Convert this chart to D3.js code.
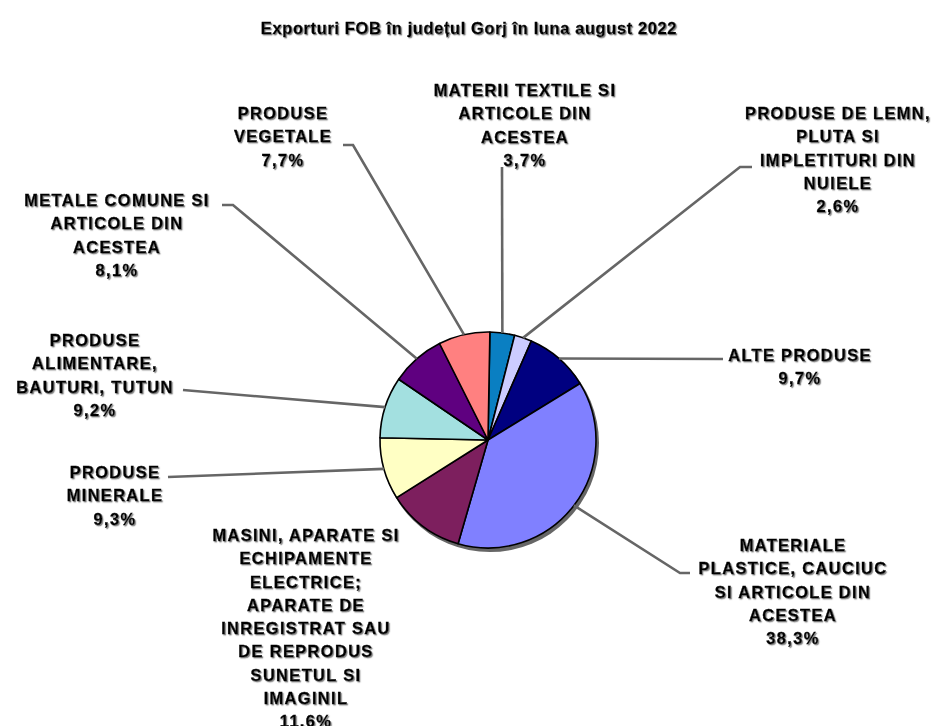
<!DOCTYPE html>
<html>
<head>
<meta charset="utf-8">
<script src="https://cdn.jsdelivr.net/npm/d3@7"></script>
<style>
  body { margin: 0; background: #fff; }
  svg text { font-family: "Liberation Sans", Arial, sans-serif; font-weight: bold; }
</style>
</head>
<body>
<div id="chart"></div>
<script>
// categories, clockwise from 12 o'clock
const labels = [
  ["MATERII TEXTILE SI", "ARTICOLE DIN", "ACESTEA"],
  ["PRODUSE DE LEMN,", "PLUTA SI", "IMPLETITURI DIN", "NUIELE"],
  ["ALTE PRODUSE"],
  ["MATERIALE", "PLASTICE, CAUCIUC", "SI ARTICOLE DIN", "ACESTEA"],
  ["MASINI, APARATE SI", "ECHIPAMENTE", "ELECTRICE;", "APARATE DE", "INREGISTRAT SAU", "DE REPRODUS", "SUNETUL SI", "IMAGINIL"],
  ["PRODUSE", "MINERALE"],
  ["PRODUSE", "ALIMENTARE,", "BAUTURI, TUTUN"],
  ["METALE COMUNE SI", "ARTICOLE DIN", "ACESTEA"],
  ["PRODUSE", "VEGETALE"]
];
// share of exports, %
const values = [3.7, 2.6, 9.7, 38.3, 11.6, 9.3, 9.2, 8.1, 7.7];
const colors = ["#0a7fc2", "#ccccff", "#000080", "#8080ff", "#7d1f5e", "#ffffc4", "#a3e0e0", "#5f0080", "#ff8080"];

const width = 938, height = 726;
const cx = 488, cy = 440, radius = 108;

// label placement: centre x, y of first line, leader end at label, optional elbow
const labelPos = [
  { x: 525, y: 90,  end: [502, 167], elbow: null },
  { x: 838, y: 113, end: [752, 167], elbow: [740, 167] },
  { x: 800, y: 355, end: [723, 359], elbow: null },
  { x: 793, y: 545, end: [690, 573], elbow: [680, 573] },
  { x: 306, y: 535, end: null, elbow: null },
  { x: 115, y: 472, end: [168, 477], elbow: null },
  { x: 95,  y: 340, end: [183, 390], elbow: null },
  { x: 117, y: 200, end: [222, 205], elbow: [233, 205] },
  { x: 283, y: 113, end: [343, 145], elbow: [353, 145] }
];
const lineH = 23.3;

const svg = d3.select("#chart").append("svg")
    .attr("width", width)
    .attr("height", height);

const defs = svg.append("defs");
const f = defs.append("filter").attr("id", "shadow")
    .attr("x", "-10%").attr("y", "-10%").attr("width", "130%").attr("height", "150%");
f.append("feDropShadow").attr("dx", 1.2).attr("dy", 1.2)
    .attr("stdDeviation", 0.7).attr("flood-color", "#777").attr("flood-opacity", 0.9);

svg.append("text")
    .attr("x", 469)
    .attr("y", 34)
    .attr("text-anchor", "middle")
    .attr("font-size", 16.5)
    .attr("letter-spacing", 0.6)
    .attr("stroke", "#000")
    .attr("stroke-width", 0.3)
    .attr("filter", "url(#shadow)")
    .text("Exporturi FOB în județul Gorj în luna august 2022");

const off = 1 * Math.PI / 180;
const pie = d3.pie().sort(null).value(d => d)
    .startAngle(off).endAngle(off + 2 * Math.PI);
const arcs = pie(values);
const arc = d3.arc().innerRadius(0).outerRadius(radius);

const g = svg.append("g").attr("transform", `translate(${cx},${cy})`);

// soft shadow under the pie
g.append("circle")
    .attr("cx", 2).attr("cy", 3).attr("r", radius + 1)
    .attr("fill", "#666");

g.selectAll("path.slice")
  .data(arcs)
  .join("path")
    .attr("class", "slice")
    .attr("d", arc)
    .attr("fill", (d, i) => colors[i])
    .attr("stroke", "#000")
    .attr("stroke-width", 1.6)
    .attr("stroke-linejoin", "round");

// leader lines
const leaders = svg.append("g")
    .attr("fill", "none")
    .attr("stroke", "#666")
    .attr("stroke-width", 2.6);

arcs.forEach((d, i) => {
  const p = labelPos[i];
  if (!p.end) return;
  const a = (d.startAngle + d.endAngle) / 2;
  const start = [cx + radius * Math.sin(a), cy - radius * Math.cos(a)];
  const pts = [start];
  if (p.elbow) pts.push(p.elbow);
  pts.push(p.end);
  leaders.append("path").attr("d", d3.line()(pts));
});

// labels
const lab = svg.append("g")
    .attr("font-size", 16.5)
    .attr("letter-spacing", 1.3)
    .attr("text-anchor", "middle")
    .attr("stroke", "#000")
    .attr("stroke-width", 0.35)
    .attr("filter", "url(#shadow)");

labels.forEach((lines, i) => {
  const p = labelPos[i];
  const t = lab.append("text").attr("x", p.x).attr("y", p.y).attr("dy", "0.36em");
  const all = lines.concat([String(values[i]).replace(".", ",") + "%"]);
  all.forEach((s, k) => {
    t.append("tspan").attr("x", p.x).attr("y", p.y + k * lineH).attr("dy", "0.36em").text(s);
  });
});
</script>
</body>
</html>
